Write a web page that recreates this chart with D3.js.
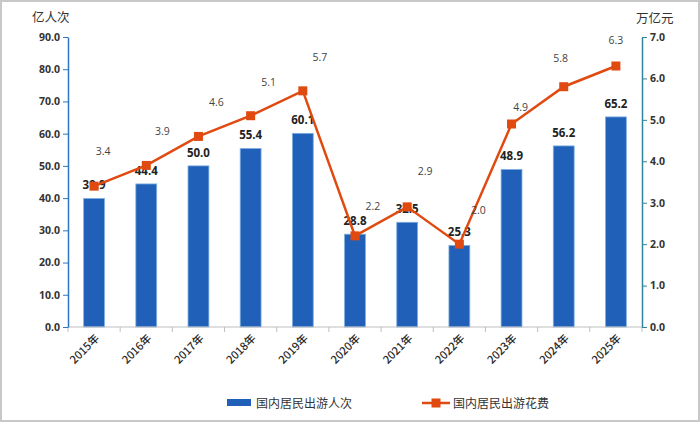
<!DOCTYPE html>
<html lang="zh">
<head>
<meta charset="utf-8">
<script src="https://d3js.org/d3.v7.min.js"></script>
<style>
  body { margin: 0; background: #fff; }
  svg { display: block; font-family: "Noto Sans CJK SC", "DejaVu Sans", sans-serif; }
</style>
</head>
<body>
<script>
// Chart data
var years = ["2015年", "2016年", "2017年", "2018年", "2019年", "2020年", "2021年", "2022年", "2023年", "2024年", "2025年"];
var trips = [39.9, 44.4, 50.0, 55.4, 60.1, 28.8, 32.5, 25.3, 48.9, 56.2, 65.2];   // 亿人次
var spend = [3.4, 3.9, 4.6, 5.1, 5.7, 2.2, 2.9, 2.0, 4.9, 5.8, 6.3];              // 万亿元
var leftTicks = [0, 10, 20, 30, 40, 50, 60, 70, 80, 90];
var rightTicks = [0, 1, 2, 3, 4, 5, 6, 7];

// hand placed label nudges for the spending labels (dx, dy from marker)
var spendLabelNudge = [[9, -31], [16, -30], [18, -30], [18, -30], [17, -30],
                       [18, -26], [18, -32], [19, -30], [9, -13], [-3, -25], [0, -22]];

var w = 700, h = 422;
var plotLeft = 68, plotRight = 642, plotTop = 37, plotBottom = 327;

var svg = d3.select("body").append("svg")
  .attr("width", w).attr("height", h);

// outer frame
svg.append("rect")
  .attr("x", 1).attr("y", 1).attr("width", w - 2).attr("height", h - 2)
  .attr("fill", "#fff").attr("stroke", "#c8c8c8").attr("stroke-width", 2);

var x = d3.scaleBand().domain(years).range([plotLeft, plotRight]).paddingInner(0.6).paddingOuter(0.3);
var xTick = d3.scaleLinear().domain([0, years.length]).range([plotLeft, plotRight]);
var yL = d3.scaleLinear().domain([0, 90]).range([plotBottom, plotTop]);
var yR = d3.scaleLinear().domain([0, 7]).range([plotBottom, plotTop]);

// bars
svg.selectAll("rect.bar")
  .data(trips)
  .enter().append("rect")
  .attr("class", "bar")
  .attr("x", function(d, i) { return x(years[i]); })
  .attr("y", function(d) { return yL(d); })
  .attr("width", x.bandwidth())
  .attr("height", function(d) { return yL(0) - yL(d); })
  .attr("fill", "#2160b8")
  .attr("stroke", "#7fb0e0")
  .attr("stroke-width", 0.8);

// bar labels
svg.selectAll("text.barlab")
  .data(trips)
  .enter().append("text")
  .attr("class", "barlab")
  .attr("x", function(d, i) { return x(years[i]) + x.bandwidth() / 2; })
  .attr("y", function(d) { return yL(d) - 9; })
  .attr("text-anchor", "middle")
  .attr("font-size", 11.5)
  .attr("font-weight", "bold")
  .attr("fill", "#222")
  .attr("font-family", "'Open Sans', 'DejaVu Sans', sans-serif")
  .text(function(d) { return d.toFixed(1); });

// bottom axis line with ticks between categories
svg.append("line")
  .attr("x1", plotLeft).attr("x2", plotRight).attr("y1", plotBottom).attr("y2", plotBottom)
  .attr("stroke", "#bfbfbf").attr("stroke-width", 1);
svg.selectAll("line.xtick")
  .data(d3.range(years.length + 1))
  .enter().append("line")
  .attr("class", "xtick")
  .attr("x1", function(d) { return xTick(d); })
  .attr("x2", function(d) { return xTick(d); })
  .attr("y1", plotBottom).attr("y2", plotBottom + 5)
  .attr("stroke", "#bfbfbf");

// x labels, rotated
svg.selectAll("text.xlab")
  .data(years)
  .enter().append("text")
  .attr("class", "xlab")
  .attr("transform", function(d) {
    return "translate(" + (x(d) + x.bandwidth() / 2 + 6) + "," + (plotBottom + 12) + ") rotate(-45)";
  })
  .attr("text-anchor", "end")
  .attr("font-size", 11)
  .attr("font-weight", 500)
  .attr("fill", "#2a2a2a")
  .text(function(d) { return d; });

// left axis
var gL = svg.append("g")
  .attr("transform", "translate(" + plotLeft + ",0)")
  .call(d3.axisLeft(yL).tickValues(leftTicks).tickSize(5).tickSizeOuter(0).tickFormat(d3.format(".1f")));
gL.select(".domain").attr("stroke", "#2e75c6").attr("stroke-width", 1.5);
gL.selectAll(".tick line").attr("stroke", "#2e75c6");
gL.selectAll(".tick text")
  .attr("font-size", 10.5).attr("font-weight", "bold").attr("fill", "#333")
  .attr("font-family", "'Open Sans', 'DejaVu Sans', sans-serif");

// right axis
var gR = svg.append("g")
  .attr("transform", "translate(" + plotRight + ",0)")
  .call(d3.axisRight(yR).tickValues(rightTicks).tickSize(5).tickSizeOuter(0).tickFormat(d3.format(".1f")));
gR.select(".domain").attr("stroke", "#31859c").attr("stroke-width", 1.5);
gR.selectAll(".tick line").attr("stroke", "#31859c");
gR.selectAll(".tick text")
  .attr("font-size", 10.5).attr("font-weight", "bold").attr("fill", "#333")
  .attr("font-family", "'Open Sans', 'DejaVu Sans', sans-serif");

// axis unit titles
svg.append("text").attr("x", 32).attr("y", 22)
  .attr("font-size", 12.5).attr("fill", "#333").text("亿人次");
svg.append("text").attr("x", 636).attr("y", 23)
  .attr("font-size", 12.5).attr("fill", "#333").text("万亿元");

// spending line
var line = d3.line()
  .x(function(d, i) { return x(years[i]) + x.bandwidth() / 2; })
  .y(function(d) { return yR(d); });

svg.append("path")
  .datum(spend)
  .attr("d", line)
  .attr("fill", "none")
  .attr("stroke", "#e04a10")
  .attr("stroke-width", 2.5);

svg.selectAll("rect.mark")
  .data(spend)
  .enter().append("rect")
  .attr("class", "mark")
  .attr("x", function(d, i) { return x(years[i]) + x.bandwidth() / 2 - 4.5; })
  .attr("y", function(d) { return yR(d) - 4.5; })
  .attr("width", 9).attr("height", 9)
  .attr("fill", "#e04a10");

svg.selectAll("text.spendlab")
  .data(spend)
  .enter().append("text")
  .attr("class", "spendlab")
  .attr("x", function(d, i) { return x(years[i]) + x.bandwidth() / 2 + spendLabelNudge[i][0]; })
  .attr("y", function(d, i) { return yR(d) + spendLabelNudge[i][1]; })
  .attr("text-anchor", "middle")
  .attr("font-size", 10.5)
  .attr("fill", "#444")
  .attr("font-family", "'Open Sans', 'DejaVu Sans', sans-serif")
  .text(function(d) { return d.toFixed(1); });

// legend
var lg = svg.append("g").attr("font-size", 12).attr("fill", "#333");
lg.append("rect").attr("x", 227).attr("y", 399).attr("width", 24).attr("height", 7).attr("fill", "#2160b8");
lg.append("text").attr("x", 256).attr("y", 408).text("国内居民出游人次");
lg.append("line").attr("x1", 422).attr("x2", 450).attr("y1", 403).attr("y2", 403)
  .attr("stroke", "#e04a10").attr("stroke-width", 2.5);
lg.append("rect").attr("x", 431.5).attr("y", 398.5).attr("width", 9).attr("height", 9).attr("fill", "#e04a10");
lg.append("text").attr("x", 453).attr("y", 408).text("国内居民出游花费");
</script>
</body>
</html>
